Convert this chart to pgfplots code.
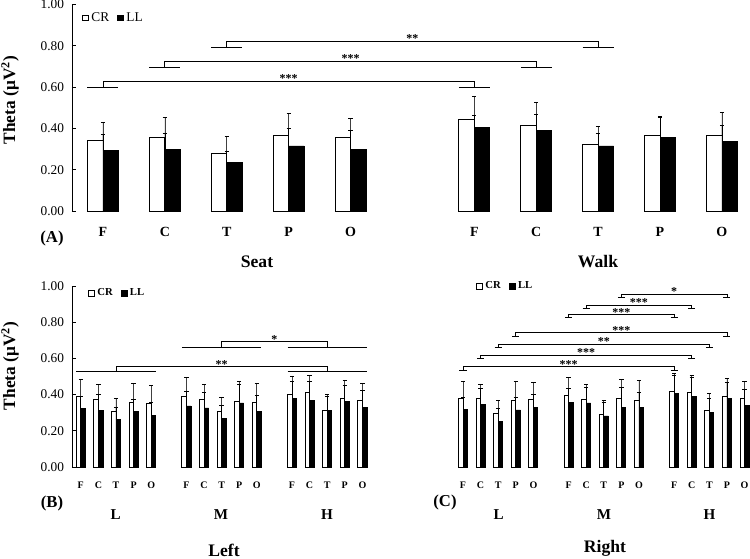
\documentclass[border=0pt]{standalone}
\usepackage{fontspec}
\setmainfont{Liberation Serif}
\usepackage{pgfplots}
\usepackage{pgfplotstable}
\pgfplotsset{compat=1.18}

% Panel A: x, CR mean, CR error, LL mean, LL error
\pgfplotstableread{
x cr ecr ll ell
0 0.344 0.086 0.295 0.075
1 0.354 0.101 0.300 0.078
2 0.280 0.080 0.236 0.051
3 0.368 0.106 0.315 0.085
4 0.358 0.088 0.297 0.091
6 0.445 0.112 0.403 0.062
7 0.413 0.115 0.388 0.082
8 0.320 0.088 0.315 0.062
9 0.368 0.088 0.358 0.097
10 0.366 0.112 0.336 0.077
}\dataA

% Panel B (Left)
\pgfplotstableread{
x cr ecr ll ell
0 0.392 0.092 0.324 0.064
1 0.374 0.081 0.313 0.087
2 0.309 0.068 0.265 0.065
3 0.357 0.103 0.306 0.070
4 0.354 0.097 0.286 0.073
6 0.392 0.104 0.337 0.081
7 0.374 0.085 0.326 0.084
8 0.309 0.078 0.267 0.073
9 0.365 0.108 0.354 0.105
10 0.355 0.107 0.309 0.085
12 0.403 0.100 0.377 0.094
13 0.413 0.095 0.370 0.101
14 0.311 0.089 0.311 0.077
15 0.381 0.098 0.361 0.088
16 0.370 0.094 0.331 0.093
}\dataB

% Panel C (Right)
\pgfplotstableread{
x cr ecr ll ell
0 0.380 0.095 0.319 0.066
1 0.380 0.079 0.346 0.087
2 0.298 0.070 0.254 0.068
3 0.368 0.103 0.315 0.072
4 0.372 0.096 0.328 0.075
6 0.396 0.101 0.355 0.080
7 0.374 0.083 0.354 0.086
8 0.289 0.077 0.282 0.073
9 0.377 0.108 0.331 0.107
10 0.368 0.111 0.331 0.083
12 0.418 0.100 0.407 0.098
13 0.414 0.094 0.389 0.104
14 0.313 0.092 0.302 0.078
15 0.390 0.100 0.377 0.091
16 0.377 0.096 0.339 0.090
}\dataC

\tikzset{sigtext/.style={font=\bfseries\fontsize{9}{10}\selectfont, anchor=base, inner sep=0pt, yshift=-1.2pt}}

\pgfplotsset{
  common/.style={
    scale only axis,
    ymin=0, ymax=1,
    axis lines*=left,
    x axis line style={draw=none},
    xtick style={draw=none},
    ytick={0,0.2,0.4,0.6,0.8,1},
    tick align=inside,
    major tick length=3pt,
    y axis line style={line width=0.6pt},
    ytick style={line width=0.6pt, black},
    /pgf/number format/assume math mode=true,
    yticklabel style={/pgf/number format/fixed, /pgf/number format/fixed zerofill, /pgf/number format/precision=2, font=\fontsize{10}{12}\selectfont, xshift=-2.5pt},
    clip=false,
    legend columns=2,
    legend style={draw=none, fill=none, inner sep=0pt, /tikz/every even column/.append style={column sep=4pt}},
  },
  sqlegend/.style={legend image code/.code={\draw[##1, line width=0.5pt] (0pt,-2.2pt) rectangle (4.4pt,2.2pt);}},
  crstyle/.style={fill=white, draw=black, line width=0.6pt, sqlegend,
    error bars/.cd, y dir=plus, y explicit,
    error bar style={line width=0.5pt, black!75},
    error mark options={rotate=90, mark size=1.6pt, line width=0.6pt, black}},
  llstyle/.style={fill=black, draw=black, line width=0.6pt, sqlegend,
    error bars/.cd, y dir=plus, y explicit,
    error bar style={line width=0.5pt, black},
    error mark options={rotate=90, mark size=1.6pt, line width=0.6pt, black}},
}

% significance bracket: #1 x1, #2 x2, #3 top y, #4 end y,
% #5,#6 end bar at x1 (from, to), #7,#8 end bar at x2 (from, to), #9 label
\newcommand{\sig}[9]{%
  \draw[line width=0.6pt] (axis cs:#1,#4) -- (axis cs:#1,#3) -- (axis cs:#2,#3) -- (axis cs:#2,#4);
  \draw[line width=0.6pt] (axis cs:#5,#4) -- (axis cs:#6,#4);
  \draw[line width=0.6pt] (axis cs:#7,#4) -- (axis cs:#8,#4);
  \path (axis cs:#1,#3) -- node[sigtext, pos=0.5] {#9} (axis cs:#2,#3);
}

\begin{document}
\begin{tikzpicture}

% ---------------- Panel A ----------------
\begin{axis}[common,
  at={(54pt,261pt)}, anchor=south west,
  width=506pt, height=154.9pt,
  xmin=-0.5, xmax=10.4,
  xtick={0,1,2,3,4,6,7,8,9,10},
  xticklabels={F,C,T,P,O,F,C,T,P,O},
  xticklabel style={font=\bfseries\fontsize{10.5}{12}\selectfont, yshift=-8.8pt},
  ylabel={Theta (μV\textsuperscript{2})},
  ylabel style={font=\bfseries\fontsize{13}{15}\selectfont, at={(axis description cs:-0.0919,0.537)}, anchor=center},
  legend style={at={(axis description cs:0.0148,0.935)}, anchor=west, font=\fontsize{10}{12}\selectfont},
]
\addplot[ybar, bar width=0.25, bar shift=-0.125, crstyle] table[x=x, y=cr, y error=ecr] {\dataA};
\addlegendentry{CR}
\addplot[ybar, bar width=0.25, bar shift=0.125, llstyle] table[x=x, y=ll, y error=ell] {\dataA};
\addlegendentry{LL}
\sig{0}{6}{0.629}{0.600}{-0.25}{0.25}{5.75}{6.25}{***}
\sig{1}{7}{0.726}{0.697}{0.75}{1.25}{6.75}{7.25}{***}
\sig{2}{8}{0.823}{0.794}{1.75}{2.25}{7.75}{8.25}{**}
\end{axis}

% ---------------- Panel B ----------------
\begin{axis}[common,
  at={(54pt,69pt)}, anchor=south west,
  width=224.4pt, height=135.75pt,
  xmin=-0.5, xmax=16.5,
  xtick={0,1,2,3,4,6,7,8,9,10,12,13,14,15,16},
  xticklabels={F,C,T,P,O,F,C,T,P,O,F,C,T,P,O},
  xticklabel style={font=\bfseries\fontsize{7.5}{9}\selectfont, yshift=-7.8pt},
  ylabel={Theta (μV\textsuperscript{2})},
  ylabel style={font=\bfseries\fontsize{13}{15}\selectfont, at={(axis description cs:-0.2072,0.558)}, anchor=center},
  legend style={at={(axis description cs:0.053,0.961)}, anchor=west, font=\bfseries\fontsize{8}{10}\selectfont},
]
\addplot[ybar, bar width=0.256, bar shift=-0.128, crstyle] table[x=x, y=cr, y error=ecr] {\dataB};
\addlegendentry{CR}
\addplot[ybar, bar width=0.256, bar shift=0.128, llstyle] table[x=x, y=ll, y error=ell] {\dataB};
\addlegendentry{LL}
% ** : L vs H
\sig{2}{14}{0.554}{0.527}{-0.25}{4.25}{11.75}{16.25}{**}
% * : M vs H
\sig{8}{14}{0.692}{0.663}{5.75}{10.25}{11.75}{16.25}{*}
\end{axis}

% ---------------- Panel C ----------------
\begin{axis}[common,
  at={(340.65pt,69pt)}, anchor=south west,
  width=220.4pt, height=135.75pt,
  xmin=-0.5, xmax=16.2,
  hide y axis,
  xtick={0,1,2,3,4,6,7,8,9,10,12,13,14,15,16},
  xticklabels={F,C,T,P,O,F,C,T,P,O,F,C,T,P,O},
  xticklabel style={font=\bfseries\fontsize{7.5}{9}\selectfont, yshift=-7.8pt},
  legend style={at={(axis description cs:0.074,1.0)}, anchor=west, font=\bfseries\fontsize{8}{10}\selectfont},
]
\addplot[ybar, bar width=0.256, bar shift=-0.128, crstyle] table[x=x, y=cr, y error=ecr] {\dataC};
\addlegendentry{CR}
\addplot[ybar, bar width=0.256, bar shift=0.128, llstyle] table[x=x, y=ll, y error=ell] {\dataC};
\addlegendentry{LL}
\sig{9}{15}{0.956}{0.937}{8.8}{9.2}{14.8}{15.2}{*}
\sig{7}{13}{0.895}{0.876}{6.8}{7.2}{12.8}{13.2}{***}
\sig{6}{12}{0.843}{0.824}{5.8}{6.2}{11.8}{12.2}{***}
\sig{3}{15}{0.742}{0.723}{2.8}{3.2}{14.8}{15.2}{***}
\sig{2}{14}{0.680}{0.661}{1.8}{2.2}{13.8}{14.2}{**}
\sig{1}{13}{0.617}{0.598}{0.8}{1.2}{12.8}{13.2}{***}
\sig{0}{12}{0.554}{0.535}{-0.2}{0.2}{11.8}{12.2}{***}
\end{axis}

% ---------------- Group and panel labels ----------------
\node[font=\bfseries\fontsize{12.5}{14}\selectfont] at (39pt,240pt) {(A)};
\node[font=\bfseries\fontsize{13.2}{15}\selectfont] at (192.75pt,222.75pt) {Seat};
\node[font=\bfseries\fontsize{13.2}{15}\selectfont] at (448.5pt,222.75pt) {Walk};

\node[font=\bfseries\fontsize{12.5}{14}\selectfont] at (39pt,42pt) {(B)};
\node[font=\bfseries\fontsize{11.3}{13}\selectfont] at (86.8pt,33pt) {L};
\node[font=\bfseries\fontsize{11.3}{13}\selectfont] at (165.75pt,33pt) {M};
\node[font=\bfseries\fontsize{11.3}{13}\selectfont] at (245.25pt,33pt) {H};
\node[font=\bfseries\fontsize{13.2}{15}\selectfont] at (168pt,6.75pt) {Left};

\node[font=\bfseries\fontsize{12.5}{14}\selectfont] at (333.75pt,42.75pt) {(C)};
\node[font=\bfseries\fontsize{11.3}{13}\selectfont] at (373.9pt,33pt) {L};
\node[font=\bfseries\fontsize{11.3}{13}\selectfont] at (453pt,33pt) {M};
\node[font=\bfseries\fontsize{11.3}{13}\selectfont] at (532.2pt,33pt) {H};
\node[font=\bfseries\fontsize{13.2}{15}\selectfont] at (453.75pt,8.25pt) {Right};

\pgfresetboundingbox
\path[use as bounding box] (0pt,0pt) rectangle (562.5pt,419.25pt);
\end{tikzpicture}
\end{document}
